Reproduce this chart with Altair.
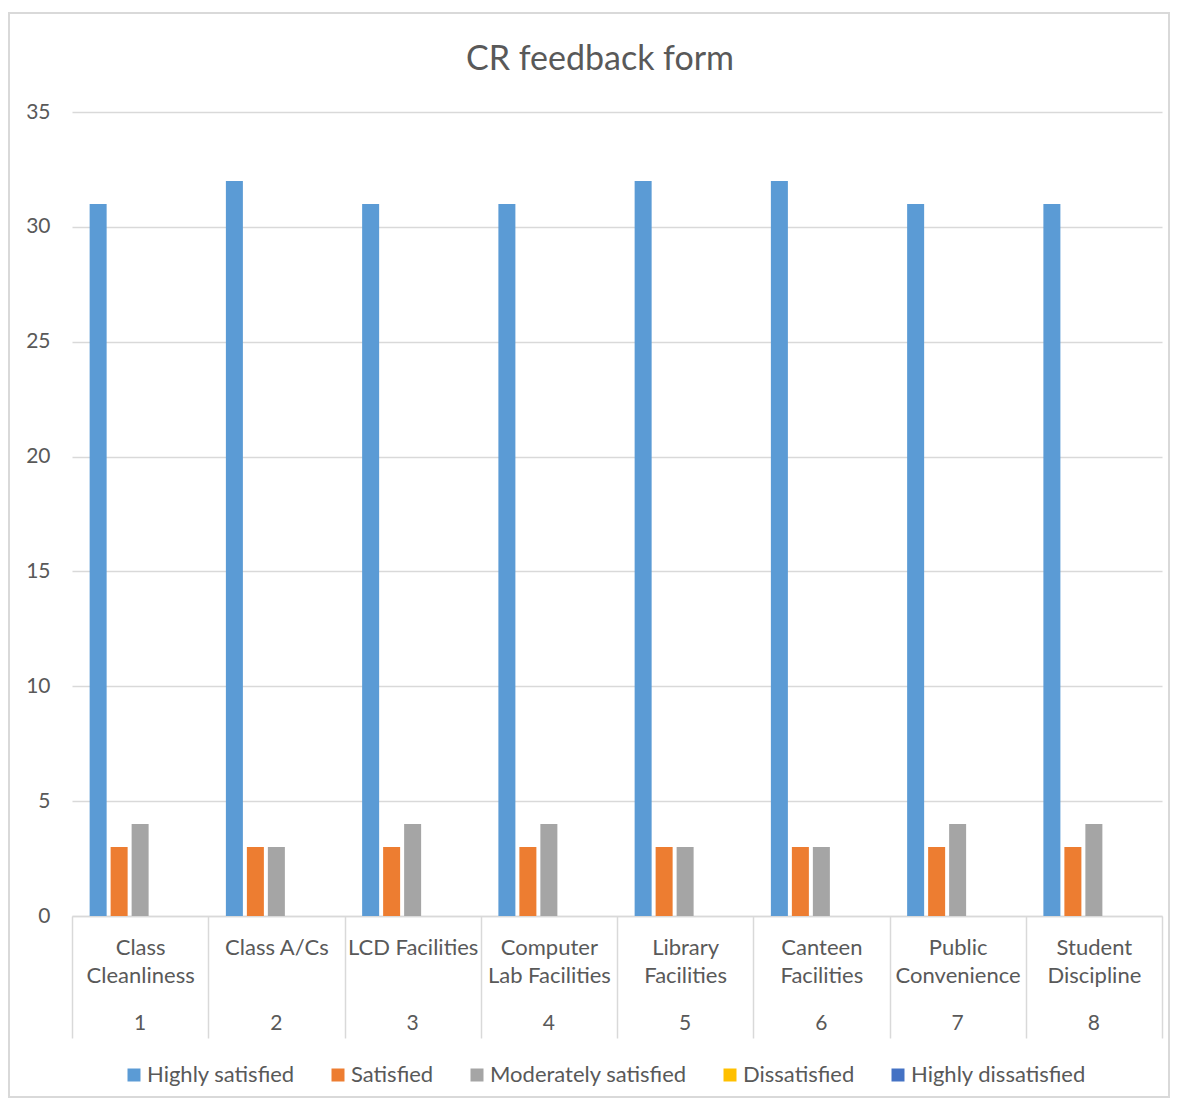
import altair as alt
import pandas as pd

categories = ["Class|Cleanliness", "Class A/Cs", "LCD Facilities", "Computer|Lab Facilities",
              "Library|Facilities", "Canteen|Facilities", "Public|Convenience", "Student|Discipline"]
numbers = ["1", "2", "3", "4", "5", "6", "7", "8"]
series = ["Highly satisfied", "Satisfied", "Moderately satisfied", "Dissatisfied", "Highly dissatisfied"]
highly_satisfied = [31, 32, 31, 31, 32, 32, 31, 31]
satisfied = [3, 3, 3, 3, 3, 3, 3, 3]
moderately_satisfied = [4, 3, 4, 4, 3, 3, 4, 4]
dissatisfied = [0, 0, 0, 0, 0, 0, 0, 0]
highly_dissatisfied = [0, 0, 0, 0, 0, 0, 0, 0]
colors = ["#5B9BD5", "#ED7D31", "#A5A5A5", "#FFC000", "#4472C4"]
y_ticks = [0, 5, 10, 15, 20, 25, 30, 35]
title_text = "CR feedback form"

values_by_series = [highly_satisfied, satisfied, moderately_satisfied, dissatisfied, highly_dissatisfied]
rows = []
for s, vals in zip(series, values_by_series):
    for c, v in zip(categories, vals):
        rows.append({"category": c, "series": s, "value": v})
df = pd.DataFrame(rows)
num_df = pd.DataFrame({"category": categories, "num": numbers})
frame_df = pd.DataFrame({"a": [0]})
title_df = pd.DataFrame({"t": [title_text]})

FONT = "Lato"
GREY = "#595959"
LINE = "#D9D9D9"

x_enc = alt.X("category:N", sort=categories,
              scale=alt.Scale(paddingInner=0, paddingOuter=0),
              axis=alt.Axis(title=None, labelExpr="split(datum.label, '|')", labelAngle=0,
                            tickBand="extent", tickSize=122, tickColor=LINE, tickWidth=1.5,
                            domainColor=LINE, domainWidth=1.5,
                            labelPadding=-101, labelBaseline="top", labelLineHeight=28,
                            labelFont=FONT, labelFontSize=22, labelColor=GREY,
                            labelLimit=200, grid=False))

bars = alt.Chart(df).mark_bar().encode(
    x=x_enc,
    xOffset=alt.XOffset("series:N", sort=series,
                        scale=alt.Scale(paddingInner=0.19, paddingOuter=0.84)),
    y=alt.Y("value:Q", scale=alt.Scale(domain=[0, 35]),
            axis=alt.Axis(values=y_ticks, title=None, domain=False, ticks=False,
                          gridColor=LINE, gridWidth=1.5, labelFont=FONT, labelFontSize=21,
                          labelColor=GREY, labelPadding=22)),
    color=alt.Color("series:N", sort=series,
                    scale=alt.Scale(domain=series, range=colors),
                    legend=alt.Legend(orient="none", legendX=51, legendY=952,
                                      direction="horizontal", columns=5, title=None,
                                      symbolType="square", symbolSize=169,
                                      symbolStrokeWidth=0, labelFont=FONT,
                                      labelFontSize=22, labelColor=GREY, labelLimit=300,
                                      columnPadding=32, labelOffset=2)),
)

nums = alt.Chart(num_df).mark_text(font=FONT, fontSize=21, color=GREY, baseline="middle").encode(
    x=alt.X("category:N", sort=categories),
    y=alt.value(912),
    text="num:N",
)

title = alt.Chart(title_df).mark_text(font=FONT, fontSize=34, color=GREY, baseline="middle",
                                      align="center").encode(
    x=alt.value(528), y=alt.value(-52), text="t:N"
)

frame = alt.Chart(frame_df).mark_rect(fill="transparent", stroke=LINE, strokeWidth=2).encode(
    x=alt.value(-63), x2=alt.value(1097), y=alt.value(-99), y2=alt.value(985)
)

chart = alt.layer(frame, bars, nums, title).properties(
    width=1090, height=804,
    autosize=alt.AutoSizeParams(type="none"),
    padding={"left": 64, "top": 104, "right": 8, "bottom": 182},
).configure_view(strokeWidth=0)

chart.save("out.html", embed_options={"renderer": "svg", "actions": False})
